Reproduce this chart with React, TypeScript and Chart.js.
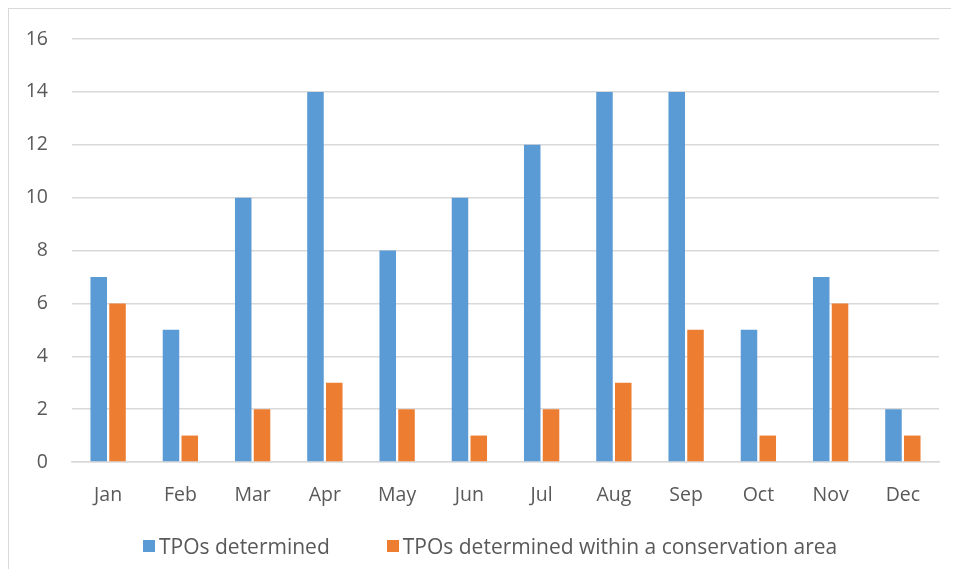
import React, { useEffect, useRef } from "react";
import { Chart, registerables } from "chart.js";

Chart.register(...registerables);

const months = ["Jan", "Feb", "Mar", "Apr", "May", "Jun", "Jul", "Aug", "Sep", "Oct", "Nov", "Dec"];
const tposDetermined = [7, 5, 10, 14, 8, 10, 12, 14, 14, 5, 7, 2];
const tposConservation = [6, 1, 2, 3, 2, 1, 2, 3, 5, 1, 6, 1];
const seriesLabels = ["TPOs determined", "TPOs determined within a conservation area"];
const seriesColors = ["#5B9BD5", "#ED7D31"];

const FONT = "'Open Sans', sans-serif";
const TEXT = "#595959";

export default function App() {
  const ref = useRef<HTMLCanvasElement | null>(null);

  useEffect(() => {
    if (!ref.current) return;
    const chart = new Chart(ref.current, {
      type: "bar",
      data: {
        labels: months,
        datasets: [
          {
            label: seriesLabels[0],
            data: tposDetermined,
            backgroundColor: seriesColors[0],
            categoryPercentage: 0.52,
            barPercentage: 0.88,
          },
          {
            label: seriesLabels[1],
            data: tposConservation,
            backgroundColor: seriesColors[1],
            categoryPercentage: 0.52,
            barPercentage: 0.88,
          },
        ],
      },
      options: {
        responsive: false,
        animation: false,
        layout: { padding: { top: 30, right: 12, bottom: 0, left: 0 } },
        plugins: {
          legend: { display: false },
          tooltip: { enabled: false },
        },
        scales: {
          x: {
            grid: { display: false, drawTicks: false },
            border: { display: true, color: "#D9D9D9", width: 1.5 },
            ticks: { color: TEXT, font: { family: FONT, size: 19.5 }, padding: 22 },
            afterFit: (s: any) => {
              s.height = 107;
            },
          },
          y: {
            min: 0,
            max: 16,
            grid: { color: "#D9D9D9", lineWidth: 1.5, drawTicks: false },
            border: { display: false },
            ticks: { stepSize: 2, color: TEXT, font: { family: FONT, size: 19.5 }, padding: 24 },
            afterFit: (s: any) => {
              s.width = 63;
              s.paddingTop = 12;
              s.paddingBottom = 12;
            },
          },
        },
      },
    });
    return () => chart.destroy();
  }, []);

  return (
    <div
      style={{
        position: "relative",
        width: 942,
        height: 560,
        borderTop: "1px solid #D9D9D9",
        borderLeft: "1px solid #D9D9D9",
      }}
    >
      <canvas ref={ref} width={942} height={560} style={{ display: "block" }} />
      <div
        style={{
          position: "absolute",
          left: 134,
          top: 523,
          display: "flex",
          alignItems: "center",
          fontFamily: FONT,
          fontSize: 21,
          color: TEXT,
          whiteSpace: "nowrap",
        }}
      >
        {seriesLabels.map((l, i) => (
          <div key={l} style={{ display: "flex", alignItems: "center", marginRight: 57 }}>
            <span
              style={{
                display: "inline-block",
                width: 12,
                height: 12,
                background: seriesColors[i],
                marginRight: 4,
              }}
            />
            <span>{l}</span>
          </div>
        ))}
      </div>
    </div>
  );
}
